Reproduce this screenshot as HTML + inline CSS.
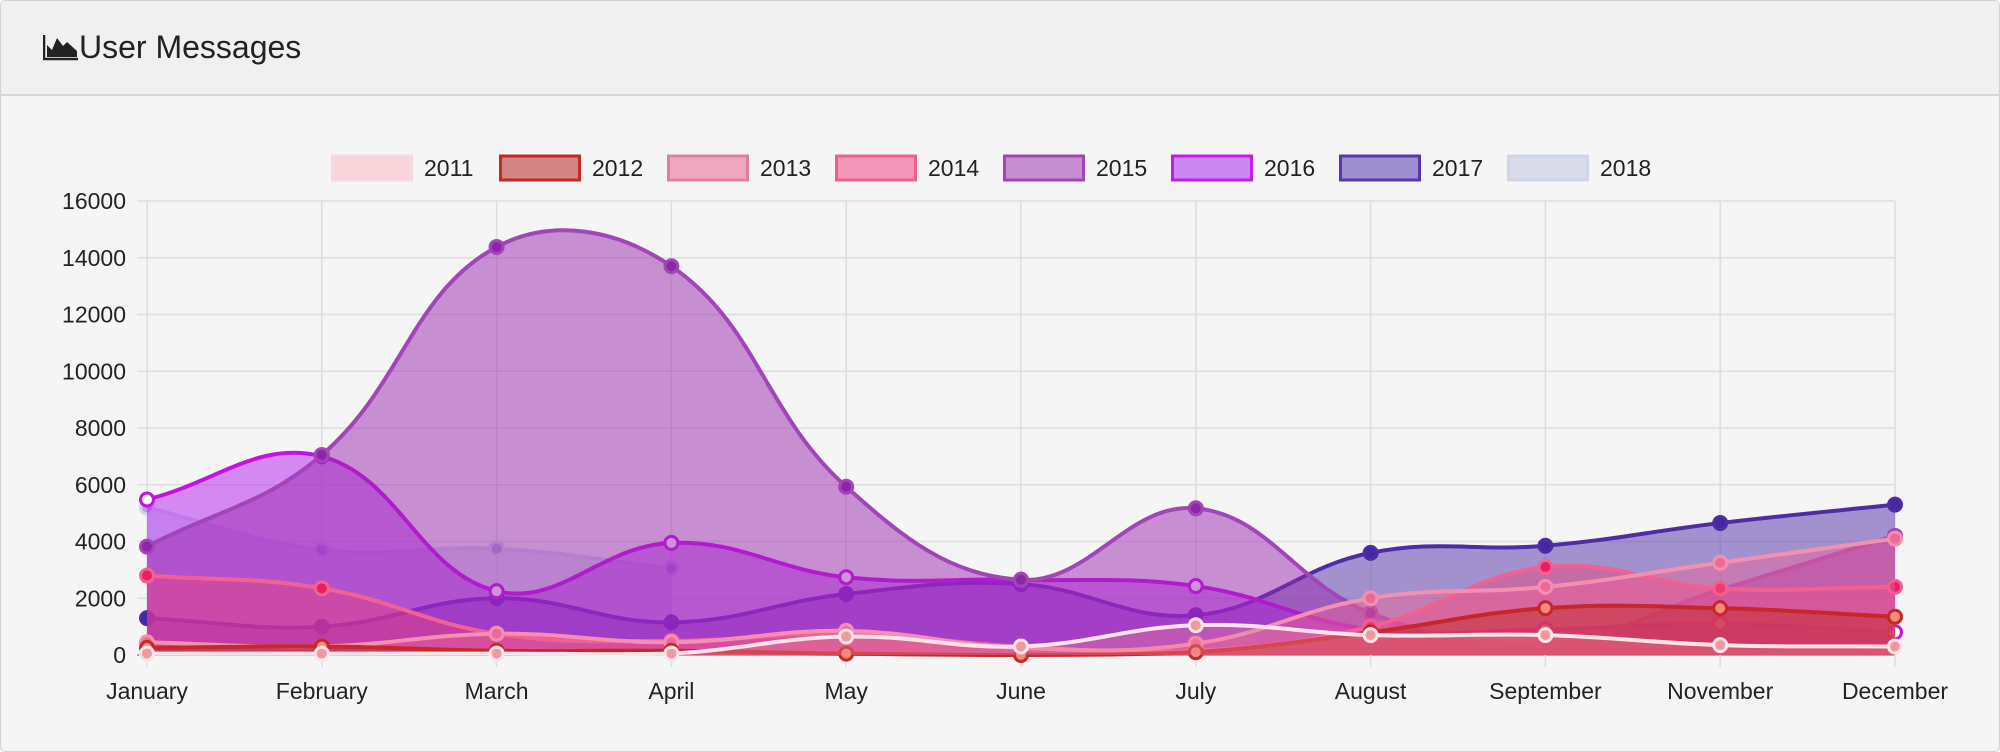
<!DOCTYPE html>
<html><head><meta charset="utf-8">
<style>
html,body{margin:0;padding:0;background:#fff;}
body{width:2000px;height:752px;overflow:hidden;font-family:"Liberation Sans",Arial,sans-serif;}
#card{position:absolute;left:0;top:0;width:1998px;height:750px;border:1px solid #d4d4d4;border-radius:5px;background:#f5f5f5;overflow:hidden;}
#hdr{position:absolute;left:0;top:0;width:1998px;height:93px;background:#f0f0f0;border-bottom:2px solid #d6d6d6;}
#title{position:absolute;left:42px;top:28px;font-size:32px;color:#222;line-height:36px;}
</style></head><body>
<div id="card">
 <div id="hdr">
  <div id="title">
   <svg width="36" height="28" viewBox="0 0 36 28" style="vertical-align:-3px"><path d="M1 2V26H35" stroke="#222" stroke-width="2.5" fill="none"/><path d="M4 24V12L9 17L14 5L20 13L24 9L34 18V24Z" fill="#222"/></svg>User Messages
  </div>
 </div>
 <svg id="chart" width="2000" height="752" style="position:absolute;left:0;top:0"></svg>
</div>
<script>
const categories=["January","February","March","April","May","June","July","August","September","November","December"];
const yTicks=[0,2000,4000,6000,8000,10000,12000,14000,16000];
const years=["2011","2012","2013","2014","2015","2016","2017","2018"];
const s2011=[50,50,50,50,650,300,1050,700,700,350,300];
const s2012=[250,300,150,150,50,0,100,800,1650,1650,1350];
const s2013=[450,300,750,450,850,250,400,2000,2400,3250,4100];
const s2014=[2800,2350,750,500,750,300,150,1000,3100,2350,2400];
const s2015=[3820,7050,14380,13700,5930,2650,5170,1480,400,2300,4200];
const s2016=[5480,7000,2250,3950,2740,2650,2430,900,900,1100,800];
const s2017=[1300,1000,2000,1150,2150,2500,1400,3600,3850,4650,5300];
const s2018=[5200,3700,3750,3050];
const seriesValues=[s2011,s2012,s2013,s2014,s2015,s2016,s2017,s2018];
const styles=[
 {b:"#fbe3ea",f:"rgba(240,130,150,0.35)",p:"#ef9a9a",lb:"#f5d9de",lf:"#f8d3da"},
 {b:"#c62828",f:"rgba(198,40,40,0.5)",p:"#f28b7a",lb:"#c62828",lf:"#d38585"},
 {b:"#f48fb1",f:"rgba(240,98,146,0.45)",p:"#ec6a95",lb:"#e57ca0",lf:"#eea7bf"},
 {b:"#f06292",f:"rgba(236,64,122,0.45)",p:"#e91e63",lb:"#ec5f8e",lf:"#f297b7"},
 {b:"#a145b8",f:"rgba(156,39,176,0.5)",p:"#8e24aa",lb:"#a145b8",lf:"#c48dcf"},
 {b:"#c510e8",f:"rgba(180,30,240,0.5)",p:"#ffffff",lb:"#c21ee8",lf:"#cc87f2"},
 {b:"#4f2ba6",f:"rgba(81,45,168,0.5)",p:"#4527a0",lb:"#5a36b0",lf:"#9d8fcf"},
 {b:"#d0d4ec",f:"rgba(197,202,233,0.55)",p:"#b39ddb",lb:"#d0d4ec",lf:"#d9dbe9"}
];
const NS="http://www.w3.org/2000/svg";
const svg=document.getElementById('chart');
const X0=146,X1=1894,Y0=654,Y1=200,YMAX=16000;
function xs(i){return X0+i*(X1-X0)/(categories.length-1);}
function ys(v){return Y0-v/YMAX*(Y0-Y1);}
function mk(t,a){const e=document.createElementNS(NS,t);for(const k in a)e.setAttribute(k,a[k]);svg.appendChild(e);return e;}
yTicks.forEach((t,i)=>{
 const g=mk('line',{x1:X0-10,x2:X1,y1:ys(t),y2:ys(t),stroke:t===0?'#aaa':'#dedede','stroke-width':t===0?2:1.5});
 
 
 const l=mk('text',{x:125,y:ys(t)+8,'text-anchor':'end','font-size':23,fill:'#222'});
 l.textContent=t;
 
 
});
categories.forEach((c,i)=>{
 const g=mk('line',{x1:xs(i),x2:xs(i),y1:Y1,y2:Y0+12,stroke:'#dedede','stroke-width':1.5});
 
 
 const l=mk('text',{x:xs(i),y:698,'text-anchor':'middle','font-size':23,fill:'#222'});
 l.textContent=c;
 
 
});
function path(pts){
 const t=0.4;let cps=[];
 for(let i=0;i<pts.length;i++){
  const p=pts[Math.max(0,i-1)],c=pts[i],n=pts[Math.min(pts.length-1,i+1)];
  const d01=Math.hypot(c[0]-p[0],c[1]-p[1]),d12=Math.hypot(n[0]-c[0],n[1]-c[1]);
  let s01=d01/(d01+d12||1),s12=d12/(d01+d12||1);
  const fa=t*s01,fb=t*s12;
  cps.push({p:[c[0]-fa*(n[0]-p[0]),c[1]-fa*(n[1]-p[1])],n:[c[0]+fb*(n[0]-p[0]),c[1]+fb*(n[1]-p[1])]});
 }
 let d=`M${pts[0][0]},${pts[0][1]}`;
 for(let i=1;i<pts.length;i++){
  let a=cps[i-1].n,b=cps[i].p;
  a=[a[0],Math.min(Y0,Math.max(Y1,a[1]))];b=[b[0],Math.min(Y0,Math.max(Y1,b[1]))];
  d+=` C${a[0]},${a[1]} ${b[0]},${b[1]} ${pts[i][0]},${pts[i][1]}`;
 }
 return d;
}
for(let k=seriesValues.length-1;k>=0;k--){
 const vals=seriesValues[k],st=styles[k];
 const pts=vals.map((v,i)=>[xs(i),ys(v)]);
 const d=path(pts);
 const area=mk('path',{d:d+` L${pts[pts.length-1][0]},${Y0} L${pts[0][0]},${Y0} Z`,fill:st.f});
 
 
 const ln=mk('path',{d:d,fill:'none',stroke:st.b,'stroke-width':4});
 
 
 pts.forEach(p=>{
  const c=mk('circle',{cx:p[0],cy:p[1],r:6.5,fill:st.p,stroke:st.b,'stroke-width':3});
  
  
 });
}
years.forEach((y,i)=>{
 const bx=330+i*168;
 const r=mk('rect',{x:bx+1.5,y:155,width:79,height:24,fill:styles[i].lf,stroke:styles[i].lb,'stroke-width':3});
 
 
 const t=mk('text',{x:bx+93,y:175,'font-size':23,fill:'#222'});
 t.textContent=y;
 
 
});
</script>
</body></html>
